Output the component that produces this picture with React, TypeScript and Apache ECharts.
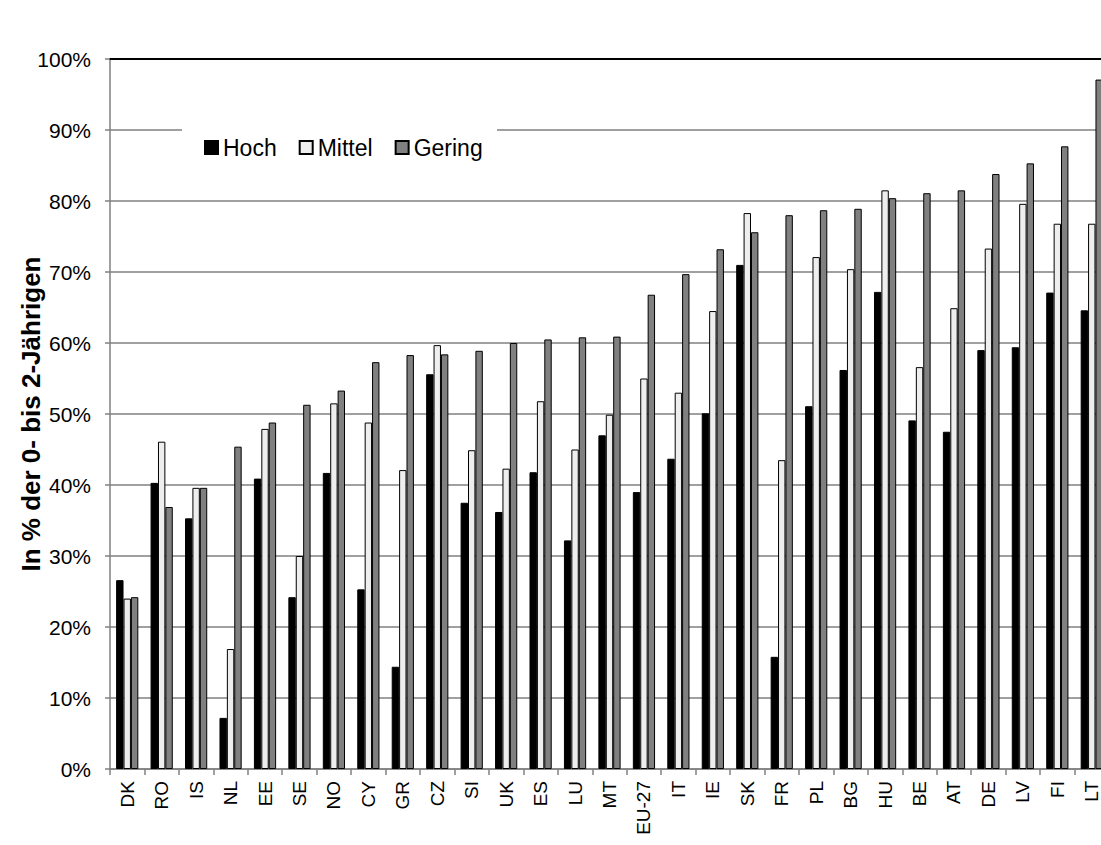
import React, { useEffect, useRef } from "react";
import * as echarts from "echarts";

const categories = ["DK","RO","IS","NL","EE","SE","NO","CY","GR","CZ","SI","UK","ES","LU","MT","EU-27","IT","IE","SK","FR","PL","BG","HU","BE","AT","DE","LV","FI","LT"];
const hoch = [26.6,40.3,35.3,7.2,40.9,24.2,41.7,25.3,14.4,55.6,37.5,36.2,41.8,32.2,47.0,39.0,43.7,50.1,71.0,15.8,51.1,56.2,67.2,49.1,47.5,59.0,59.4,67.1,64.6];
const mittel = [24.0,46.1,39.6,16.9,47.9,30.0,51.5,48.8,42.1,59.7,44.9,42.3,51.8,45.0,49.9,55.0,53.0,64.5,78.3,43.5,72.1,70.4,81.5,56.6,64.9,73.3,79.6,76.8,76.8];
const gering = [24.2,36.9,39.6,45.4,48.8,51.3,53.3,57.3,58.3,58.4,58.9,60.0,60.5,60.8,60.9,66.8,69.7,73.2,75.6,78.0,78.7,78.9,80.4,81.1,81.5,83.8,85.3,87.7,97.1];
const seriesNames = ["Hoch", "Mittel", "Gering"];
const yAxisTitle = "In % der 0- bis 2-Jährigen";

const FONT = "'Liberation Sans', Arial, sans-serif";

export default function App() {
  const ref = useRef<HTMLDivElement>(null);
  useEffect(() => {
    const chart = echarts.init(ref.current!, null, { renderer: "svg" });
    const barStyle = (color: string) => ({ color, borderColor: "#000", borderWidth: 1 });
    chart.setOption({
      animation: false,
      backgroundColor: "#ffffff",
      textStyle: { fontFamily: FONT },
      grid: { left: 110, top: 59, bottom: 76, right: -8, containLabel: false, outerBoundsMode: "none" },
      graphic: [
        { type: "rect", z: 1, shape: { x: 182, y: 129, width: 315, height: 71 }, style: { fill: "#ffffff" } },
      ],
      legend: {
        data: seriesNames,
        left: 204,
        top: 136,
        padding: 0,
        itemWidth: 13,
        itemHeight: 13,
        itemGap: 22,
        icon: "rect",
        textStyle: { fontSize: 23, color: "#000", fontFamily: FONT },
      },
      xAxis: [
        {
          type: "category",
          data: categories,
          axisLine: { lineStyle: { color: "#808080", width: 1.5 } },
          axisTick: { show: true, length: 6, lineStyle: { color: "#808080", width: 1.5 } },
          axisLabel: { rotate: 90, fontSize: 19, color: "#000", margin: 12, fontFamily: FONT },
          splitLine: { show: false },
        },
        {
          type: "category",
          data: categories,
          position: "top",
          axisLine: { lineStyle: { color: "#000", width: 2 } },
          axisTick: { show: false },
          axisLabel: { show: false },
        },
      ],
      yAxis: {
        type: "value",
        min: 0,
        max: 100,
        interval: 10,
        name: yAxisTitle,
        nameLocation: "middle",
        nameGap: 66,
        nameMoveOverlap: false,
        nameTextStyle: { fontSize: 26, fontWeight: "bold", color: "#000", fontFamily: FONT },
        axisLine: { show: true, lineStyle: { color: "#808080", width: 1.5 } },
        axisTick: { show: true, length: 5, lineStyle: { color: "#808080", width: 1.5 } },
        axisLabel: { formatter: "{value}%", fontSize: 21, color: "#000", margin: 19, fontFamily: FONT },
        splitLine: { show: true, lineStyle: { color: "#808080", width: 1.5 } },
      },
      series: [
        { name: seriesNames[0], type: "bar", data: hoch, barWidth: 7.4, barGap: "0%", itemStyle: barStyle("#000000"), z: 2 },
        { name: seriesNames[1], type: "bar", data: mittel, barWidth: 7.4, barGap: "0%", itemStyle: barStyle("#eeeeee"), z: 2 },
        { name: seriesNames[2], type: "bar", data: gering, barWidth: 7.4, barGap: "0%", itemStyle: barStyle("#808080"), z: 2 },
      ],
    });
    return () => chart.dispose();
  }, []);
  return <div ref={ref} style={{ position: "absolute", left: 0, top: 0, width: 1101, height: 845 }} />;
}
